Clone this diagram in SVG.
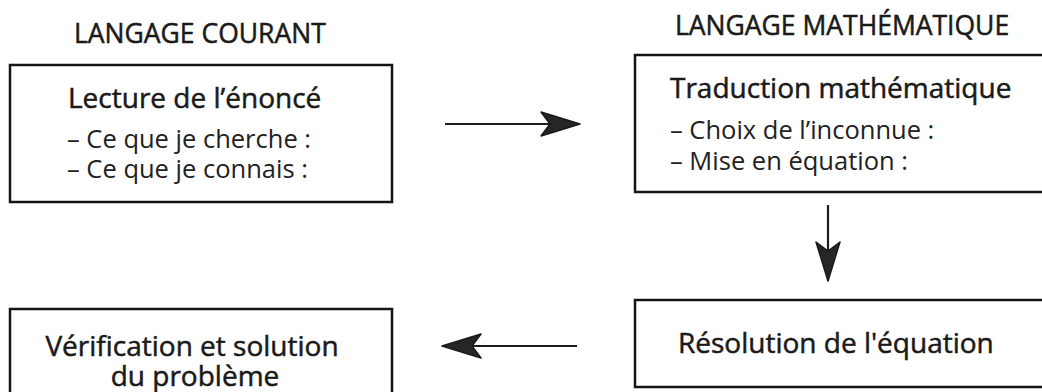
<svg xmlns="http://www.w3.org/2000/svg" width="1042" height="392" viewBox="0 0 1042 392">
  <style>
    .box { fill: #ffffff; stroke: #141414; stroke-width: 2.5; }
    .hdr { font-family: "Open Sans", "Liberation Sans", sans-serif; font-size: 26.5px; fill: #1a1a1a; stroke: #1a1a1a; stroke-width: 0.5; }
    .ttl { font-family: "Open Sans", "Liberation Sans", sans-serif; font-size: 28px; fill: #1a1a1a; stroke: #1a1a1a; stroke-width: 0.5; }
    .itm { font-family: "Open Sans", "Liberation Sans", sans-serif; font-size: 25.5px; fill: #222222; }
    .conn { stroke: #1e1e1e; stroke-width: 2.2; fill: none; }
  </style>
  <defs>
    <marker id="head" markerUnits="userSpaceOnUse" viewBox="-41 -14 43 28" refX="0" refY="0" markerWidth="43" markerHeight="28" orient="auto">
      <path d="M0,0 L-39,-12 L-30,0 L-39,12 Z" fill="#262626" stroke="#1a1a1a" stroke-width="1.5" stroke-linejoin="round"/>
    </marker>
  </defs>
  <rect x="0" y="0" width="1042" height="392" fill="#ffffff"/>

  <g id="header-courant">
    <text class="hdr" x="74" y="43">LANGAGE COURANT</text>
  </g>
  <g id="header-math">
    <text class="hdr" x="675" y="35">LANGAGE MATHÉMATIQUE</text>
  </g>

  <g id="node-lecture">
    <rect class="box" x="10" y="65" width="382" height="137"/>
    <text class="ttl" x="68" y="108">Lecture de l’énoncé</text>
    <text class="itm" x="67" y="148">– Ce que je cherche :</text>
    <text class="itm" x="67" y="178">– Ce que je connais :</text>
  </g>

  <g id="node-traduction">
    <rect class="box" x="635" y="55" width="420" height="137"/>
    <text class="ttl" x="670" y="98">Traduction mathématique</text>
    <text class="itm" x="670" y="139">– Choix de l’inconnue :</text>
    <text class="itm" x="670" y="170">– Mise en équation :</text>
  </g>

  <g id="node-resolution">
    <rect class="box" x="635" y="300" width="420" height="87"/>
    <text class="ttl" x="678" y="353">Résolution de l'équation</text>
  </g>

  <g id="node-verification">
    <rect class="box" x="10" y="309" width="382" height="100"/>
    <text class="ttl" x="192" y="356" text-anchor="middle">Vérification et solution</text>
    <text class="ttl" x="195" y="386" text-anchor="middle">du problème</text>
  </g>

  <g id="connectors">
    <line class="conn" x1="445" y1="124" x2="580" y2="124" marker-end="url(#head)"/>
    <line class="conn" x1="828" y1="205" x2="828" y2="281" marker-end="url(#head)"/>
    <line class="conn" x1="577" y1="346" x2="442" y2="346" marker-end="url(#head)"/>
  </g>
</svg>
